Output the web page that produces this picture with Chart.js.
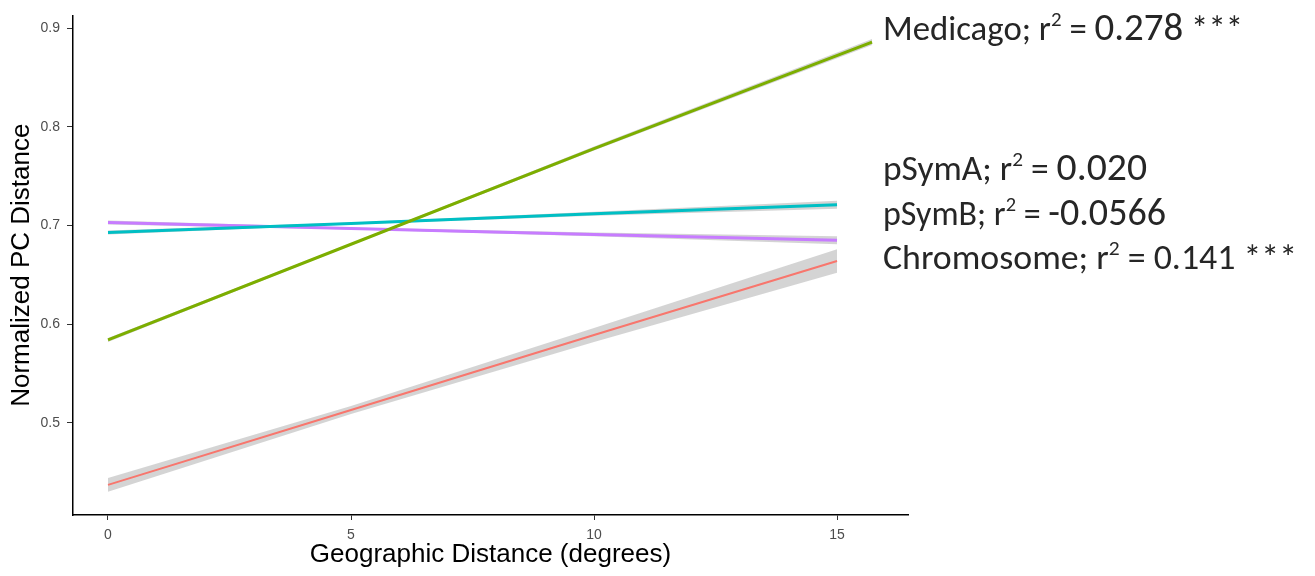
<!DOCTYPE html>
<html>
<head>
<meta charset="utf-8">
<title>Distância PC x Distância Geográfica</title>
<script src="https://cdn.jsdelivr.net/npm/chart.js@4.4.0/dist/chart.umd.min.js"></script>
<style>
    html, body { margin: 0; padding: 0; background: #fff; }
    #grafico { display: block; }
</style>
</head>
<body>
<canvas id="grafico" width="1315" height="576"></canvas>
<script>
// Dados
const ticksX = [0, 5, 10, 15];
const ticksY = [0.5, 0.6, 0.7, 0.8, 0.9];

const distGeo = [0, 5, 10, 15];
const distGeoMedicago = [0, 5, 10, 15.72];

const medicago    = [0.584, 0.681, 0.778, 0.886];
const medicagoSup = [0.586, 0.682, 0.780, 0.889];
const medicagoInf = [0.582, 0.680, 0.776, 0.883];

const psymA    = [0.693, 0.702, 0.712, 0.721];
const psymASup = [0.695, 0.703, 0.714, 0.725];
const psymAInf = [0.691, 0.701, 0.710, 0.717];

const psymB    = [0.703, 0.697, 0.691, 0.685];
const psymBSup = [0.705, 0.698, 0.693, 0.689];
const psymBInf = [0.701, 0.696, 0.689, 0.681];

const cromossomo    = [0.437, 0.513, 0.589, 0.664];
const cromossomoSup = [0.444, 0.517, 0.596, 0.676];
const cromossomoInf = [0.430, 0.509, 0.582, 0.652];

const nomesSeries = ['Medicago', 'pSymA', 'pSymB', 'Chromosome'];
const valoresR2 = ['0.278', '0.020', '-0.0566', '0.141'];
const significancia = ['***', '', '', '***'];

// Cores padrão do ggplot
const corMedicago = '#7CAE00';
const corPsymA = '#00BFC4';
const corPsymB = '#C77CFF';
const corCromossomo = '#F8766D';
const corFaixa = 'rgba(160, 160, 160, 0.45)';

const fonteEixo = "'Liberation Sans', Arial, sans-serif";
const fonteTexto = "Carlito, 'Open Sans', sans-serif";

function pontos(xs, ys) {
    return xs.map((x, i) => ({ x: x, y: ys[i] }));
}

function linha(label, xs, ys, cor, largura) {
    return {
        label: label,
        data: pontos(xs, ys),
        borderColor: cor,
        borderWidth: largura,
        pointRadius: 0,
        fill: false,
        order: 0
    };
}

function faixa(xs, ys, preencher) {
    return {
        data: pontos(xs, ys),
        borderWidth: 0,
        borderColor: 'rgba(0,0,0,0)',
        backgroundColor: corFaixa,
        pointRadius: 0,
        fill: preencher,
        order: 1
    };
}

// Posição das anotações à direita (baseline, largura total)
const posAnotacoes = [
    { y: 40, largura: 360, escNum: 1.12 },
    { y: 180, largura: 264, escNum: 1.12 },
    { y: 225, largura: 283, escNum: 1.12 },
    { y: 269, largura: 414, escNum: 1.0 }
];

const pluginAnotacoes = {
    id: 'anotacoes',
    afterDraw(chart) {
        const ctx = chart.ctx;
        const base = 35;
        ctx.save();
        ctx.fillStyle = '#262626';
        ctx.textBaseline = 'alphabetic';
        ctx.textAlign = 'left';
        nomesSeries.forEach((nome, i) => {
            const pos = posAnotacoes[i];
            const partes = [
                { texto: nome + '; r', tam: base, peso: 'normal', sobe: 0 },
                { texto: '2', tam: base * 0.6, peso: 'normal', sobe: base * 0.4 },
                { texto: ' = ', tam: base, peso: 'normal', sobe: 0 },
                { texto: valoresR2[i], tam: base * pos.escNum, peso: '300', sobe: 0 }
            ];
            if (significancia[i]) {
                partes.push({ texto: ' ' + significancia[i], tam: base, peso: 'normal', sobe: 0 });
            }
            let total = 0;
            partes.forEach(p => {
                ctx.font = `${p.peso} ${p.tam}px ${fonteTexto}`;
                p.w = ctx.measureText(p.texto).width;
                total += p.w;
            });
            const esc = pos.largura / total;
            ctx.save();
            ctx.translate(883, pos.y);
            ctx.scale(esc, 1);
            let cx = 0;
            partes.forEach(p => {
                ctx.font = `${p.peso} ${p.tam}px ${fonteTexto}`;
                ctx.fillText(p.texto, cx, -p.sobe);
                cx += p.w;
            });
            ctx.restore();
        });
        ctx.restore();
    }
};

const ctx = document.getElementById('grafico').getContext('2d');

const meuGrafico = new Chart(ctx, {
    type: 'line',
    data: {
        datasets: [
            linha(nomesSeries[0], distGeoMedicago, medicago, corMedicago, 3),
            linha(nomesSeries[1], distGeo, psymA, corPsymA, 3),
            linha(nomesSeries[2], distGeo, psymB, corPsymB, 3),
            linha(nomesSeries[3], distGeo, cromossomo, corCromossomo, 2),
            faixa(distGeoMedicago, medicagoInf, false),
            faixa(distGeoMedicago, medicagoSup, '-1'),
            faixa(distGeo, psymAInf, false),
            faixa(distGeo, psymASup, '-1'),
            faixa(distGeo, psymBInf, false),
            faixa(distGeo, psymBSup, '-1'),
            faixa(distGeo, cromossomoInf, false),
            faixa(distGeo, cromossomoSup, '-1')
        ]
    },
    options: {
        responsive: false,
        animation: false,
        devicePixelRatio: 1,
        layout: {
            padding: { top: 10, right: 407, bottom: 0, left: 0 }
        },
        plugins: {
            legend: { display: false },
            tooltip: { enabled: false }
        },
        scales: {
            x: {
                type: 'linear',
                min: -0.72,
                max: 16.46,
                afterBuildTicks: s => { s.ticks = ticksX.map(v => ({ value: v })); },
                afterFit: s => { s.height = 61; },
                ticks: {
                    font: { family: fonteEixo, size: 14 },
                    color: '#4d4d4d',
                    padding: 7,
                    maxRotation: 0,
                    callback: v => String(v)
                },
                grid: { drawOnChartArea: false, drawTicks: true, tickLength: 5, color: '#333' },
                border: { display: true, color: '#000', width: 1.5 },
                title: {
                    display: true,
                    text: 'Geographic Distance (degrees)',
                    font: { family: fonteEixo, size: 26 },
                    color: '#000',
                    padding: { top: 0, bottom: 6 }
                }
            },
            y: {
                type: 'linear',
                min: 0.4065,
                max: 0.913,
                afterBuildTicks: s => { s.ticks = ticksY.map(v => ({ value: v })); },
                afterFit: s => { s.width = 73; },
                ticks: {
                    font: { family: fonteEixo, size: 14 },
                    color: '#4d4d4d',
                    padding: 7,
                    callback: v => Number(v).toFixed(1)
                },
                grid: { drawOnChartArea: false, drawTicks: true, tickLength: 6, color: '#333' },
                border: { display: true, color: '#000', width: 1.5 },
                title: {
                    display: true,
                    text: 'Normalized PC Distance',
                    font: { family: fonteEixo, size: 26 },
                    color: '#000',
                    padding: { top: 6, bottom: 0 }
                }
            }
        }
    },
    plugins: [pluginAnotacoes]
});
</script>
</body>
</html>
